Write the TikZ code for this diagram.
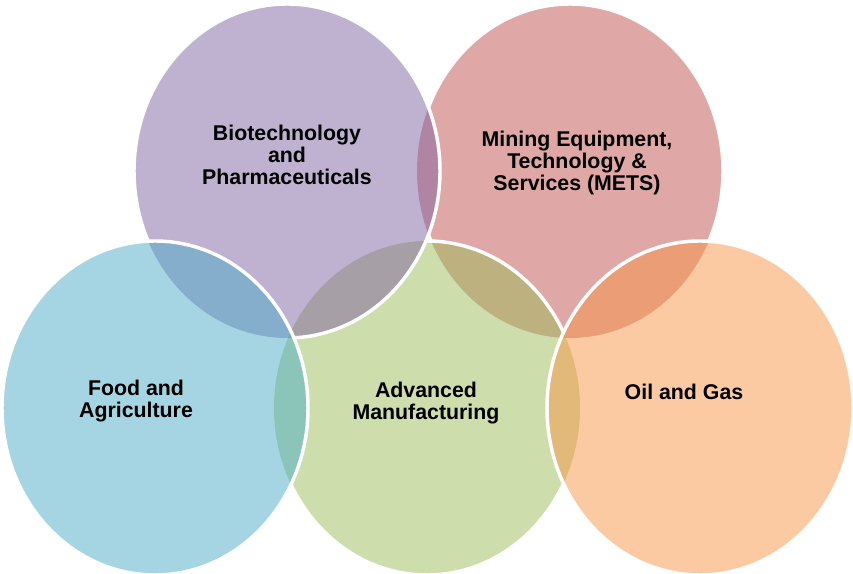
\documentclass[tikz,border=0pt]{standalone}
\usepackage{fontspec}
\setmainfont{Liberation Sans}
\usetikzlibrary{shapes.geometric}

\definecolor{vennred}{HTML}{C0504D}
\definecolor{venngreen}{HTML}{9BBB59}
\definecolor{vennpurple}{HTML}{8064A2}
\definecolor{vennblue}{HTML}{4BACC6}
\definecolor{vennorange}{HTML}{F79646}

% outline of one sector, taken from its node centre
\newcommand{\vennpath}[1]{(#1.center) ellipse [x radius=114.75pt, y radius=125.25pt]}
\newcommand{\vennhole}[1]{\clip (-20,-20) rectangle (880,600) \vennpath{#1};}

\begin{document}
\begin{tikzpicture}[
  x=0.75pt, y=0.75pt,
  venn/.style={ellipse, minimum width=229.5pt, minimum height=250.5pt, inner sep=0pt, outer sep=0pt, fill opacity=0.5},
  rim/.style={draw=white, line width=2.6pt},
  tag/.style={align=center, text=black, font=\bfseries\fontsize{16}{16.5}\selectfont}
]
  \useasboundingbox (0,0) rectangle (853,574);

  % Sectors, lowest first
  \node[venn, fill=vennred] (mets) at (570,403) {};
  \node[venn, fill=venngreen] (manu) at (427,166) {};
  \node[venn, fill=vennpurple] (bio) at (287,403) {};
  \node[venn, fill=vennblue] (food) at (155,166) {};
  \node[venn, fill=vennorange] (oil) at (700,166) {};

  % White rims, hidden where a higher sector lies on top
  \begin{scope}[even odd rule]
    \vennhole{manu} \vennhole{bio} \vennhole{oil}
    \draw[rim] \vennpath{mets};
  \end{scope}
  \begin{scope}[even odd rule]
    \vennhole{bio} \vennhole{food} \vennhole{oil}
    \draw[rim] \vennpath{manu};
  \end{scope}
  \begin{scope}[even odd rule]
    \vennhole{food}
    \draw[rim] \vennpath{bio};
  \end{scope}
  \draw[rim] \vennpath{food};
  \draw[rim] \vennpath{oil};

  % Labels
  \node[tag] (biolabel) at (287,419) {Biotechnology\\and\\Pharmaceuticals};
  \node[tag] (metslabel) at (577,411) {Mining Equipment,\\Technology \&\\Services (METS)};
  \node[tag] (foodlabel) at (136,173) {Food and\\Agriculture};
  \node[tag] (manulabel) at (426,171) {Advanced\\Manufacturing};
  \node[tag] (oillabel) at (684,182) {Oil and Gas};

\end{tikzpicture}
\end{document}
